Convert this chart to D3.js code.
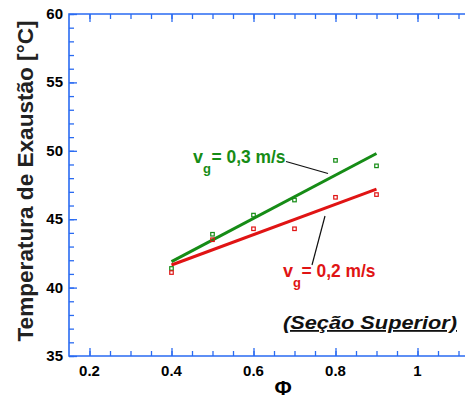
<!DOCTYPE html>
<html>
<head>
<meta charset="utf-8">
<script src="https://cdn.jsdelivr.net/npm/d3@7"></script>
<style>
  html, body { margin: 0; padding: 0; background: #fff; }
  svg { display: block; }
  text { font-family: "Liberation Sans", Arial, sans-serif; }
</style>
</head>
<body>
<svg id="chart" width="465" height="398"></svg>
<script>
// ---- data ----
const phiValues = [0.4, 0.5, 0.6, 0.7, 0.8, 0.9];
const tempVg03 = [41.4, 43.9, 45.3, 46.4, 49.3, 48.9];
const tempVg02 = [41.1, 43.5, 44.3, 44.3, 46.6, 46.8];
const fitPhi = [0.4, 0.9];
const fitVg03 = [41.9, 49.8];
const fitVg02 = [41.65, 47.2];
const xTickValues = [0.2, 0.4, 0.6, 0.8, 1];
const xTickLabels = ["0.2", "0.4", "0.6", "0.8", "1"];
const yTickValues = [35, 40, 45, 50, 55, 60];
const yTickLabels = ["35", "40", "45", "50", "55", "60"];
const seriesLabels = ["0,3 m/s", "0,2 m/s"];
const sectionLabel = "(Seção Superior)";
const xTitle = "Φ";
const yTitle = "Temperatura de Exaustão [°C]";

// ---- layout ----
const svg = d3.select("#chart");
const pLeft = 69, pTop = 14, pRight = 479, pBottom = 356;
const x = d3.scaleLinear().domain([0.15, 1.15]).range([pLeft, pRight]);
const y = d3.scaleLinear().domain([35, 60]).range([pBottom, pTop]);
const axisColor = "#2a6bf2";
const green = "#168c16";
const red = "#e01414";

// minor ticks
const xMinor = d3.range(0.2, 1.151, 0.05).map(v => +v.toFixed(2));
const yMinor = d3.range(35, 60.01, 1);

function styleAxis(g) {
  g.select(".domain").remove();
  g.selectAll("line").attr("stroke", axisColor).attr("stroke-width", 1.3);
}
svg.append("g").attr("transform", `translate(0,${pBottom})`)
  .call(d3.axisBottom(x).tickValues(xMinor).tickSize(-5).tickFormat("")).call(styleAxis);
svg.append("g").attr("transform", `translate(0,${pTop})`)
  .call(d3.axisTop(x).tickValues(xMinor).tickSize(-5).tickFormat("")).call(styleAxis);
svg.append("g").attr("transform", `translate(${pLeft},0)`)
  .call(d3.axisLeft(y).tickValues(yMinor).tickSize(-5).tickFormat("")).call(styleAxis);

// major ticks
svg.append("g").attr("transform", `translate(0,${pBottom})`)
  .call(d3.axisBottom(x).tickValues(xTickValues).tickSize(-8).tickFormat(""))
  .call(styleAxis);
svg.append("g").attr("transform", `translate(0,${pTop})`)
  .call(d3.axisTop(x).tickValues(xTickValues).tickSize(-8).tickFormat(""))
  .call(styleAxis);
svg.append("g").attr("transform", `translate(${pLeft},0)`)
  .call(d3.axisLeft(y).tickValues(yTickValues).tickSize(-8).tickFormat(""))
  .call(styleAxis);

// frame
svg.append("path")
  .attr("d", `M${pRight},${pTop}H${pLeft}V${pBottom}H${pRight}`)
  .attr("fill", "none").attr("stroke", axisColor).attr("stroke-width", 1.6);

// tick labels
svg.append("g").selectAll("text").data(xTickValues).join("text")
  .attr("x", d => x(d)).attr("y", pBottom + 20)
  .attr("text-anchor", "middle").attr("font-size", 15).attr("font-weight", "bold")
  .text((d, i) => xTickLabels[i]);
svg.append("g").selectAll("text").data(yTickValues).join("text")
  .attr("x", pLeft - 6).attr("y", d => y(d) + 5)
  .attr("text-anchor", "end").attr("font-size", 15).attr("font-weight", "bold")
  .text((d, i) => yTickLabels[i]);

// titles
svg.append("text").attr("x", 283).attr("y", 395)
  .attr("text-anchor", "middle").attr("font-size", 21).attr("font-weight", "bold")
  .text(xTitle);
svg.append("text").attr("transform", `translate(33,181) rotate(-90)`)
  .attr("text-anchor", "middle").attr("font-size", 22).attr("font-weight", "bold")
  .attr("fill", "#222").attr("textLength", 321).attr("lengthAdjust", "spacingAndGlyphs")
  .text(yTitle);

// fit lines
const line = d3.line().x(d => x(d[0])).y(d => y(d[1]));
svg.append("path").datum(fitPhi.map((p, i) => [p, fitVg03[i]]))
  .attr("d", line).attr("stroke", green).attr("stroke-width", 3).attr("fill", "none");
svg.append("path").datum(fitPhi.map((p, i) => [p, fitVg02[i]]))
  .attr("d", line).attr("stroke", red).attr("stroke-width", 3).attr("fill", "none");

// markers
function markers(vals, color) {
  svg.append("g").selectAll("rect").data(phiValues.map((p, i) => [p, vals[i]])).join("rect")
    .attr("x", d => x(d[0]) - 1.75).attr("y", d => y(d[1]) - 1.75)
    .attr("width", 3.5).attr("height", 3.5)
    .attr("fill", "none").attr("stroke", color).attr("stroke-width", 1.2);
}
markers(tempVg03, green);
markers(tempVg02, red);

// annotations
function vgLabel(xPos, yBase, color, label) {
  const t = svg.append("text").attr("font-weight", "bold").attr("fill", color).attr("font-size", 18);
  t.append("tspan").attr("x", xPos).attr("y", yBase).text("v");
  t.append("tspan").attr("x", xPos + 10).attr("y", yBase + 10).attr("font-size", 13).text("g");
  t.append("tspan").attr("x", xPos + 18.5).attr("y", yBase)
    .attr("textLength", 74).attr("lengthAdjust", "spacingAndGlyphs").text("= " + label);
}
vgLabel(193, 163, green, seriesLabels[0]);
vgLabel(283, 277, red, seriesLabels[1]);

svg.append("line").attr("x1", 286).attr("y1", 161.5).attr("x2", 328).attr("y2", 173.5)
  .attr("stroke", "#111").attr("stroke-width", 1.2);
svg.append("line").attr("x1", 312).attr("y1", 265).attr("x2", 325).attr("y2", 216)
  .attr("stroke", "#111").attr("stroke-width", 1.2);

svg.append("text").attr("x", 283).attr("y", 329)
  .attr("font-size", 18).attr("font-weight", "bold").attr("font-style", "italic")
  .attr("text-decoration", "underline").attr("fill", "#111")
  .attr("textLength", 174).attr("lengthAdjust", "spacingAndGlyphs")
  .text(sectionLabel);
</script>
</body>
</html>
